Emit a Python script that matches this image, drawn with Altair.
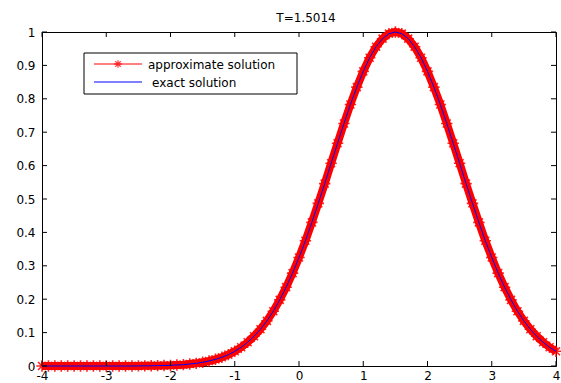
import altair as alt
import pandas as pd

# ---- data ----
x_vals = [-4.0, -3.9, -3.8, -3.7, -3.6, -3.5, -3.4, -3.3, -3.2, -3.1,
          -3.0, -2.9, -2.8, -2.7, -2.6, -2.5, -2.4, -2.3, -2.2, -2.1,
          -2.0, -1.9, -1.8, -1.7, -1.6, -1.5, -1.4, -1.3, -1.2, -1.1,
          -1.0, -0.9, -0.8, -0.7, -0.6, -0.5, -0.4, -0.3, -0.2, -0.1,
          0.0, 0.1, 0.2, 0.3, 0.4, 0.5, 0.6, 0.7, 0.8, 0.9,
          1.0, 1.1, 1.2, 1.3, 1.4, 1.5, 1.6, 1.7, 1.8, 1.9,
          2.0, 2.1, 2.2, 2.3, 2.4, 2.5, 2.6, 2.7, 2.8, 2.9,
          3.0, 3.1, 3.2, 3.3, 3.4, 3.5, 3.6, 3.7, 3.8, 3.9, 4.0]

exact_vals = [0.0, 0.0, 0.0, 0.0, 0.0, 0.0, 0.0, 0.0, 0.0, 0.0,
              0.0, 0.0, 0.0, 0.0, 0.0, 0.0003, 0.0005, 0.0007, 0.001, 0.0015,
              0.002, 0.003, 0.004, 0.006, 0.008, 0.011, 0.015, 0.020, 0.026, 0.034,
              0.044, 0.056, 0.071, 0.089, 0.110, 0.135, 0.164, 0.198, 0.236, 0.278,
              0.325, 0.375, 0.430, 0.487, 0.546, 0.607, 0.667, 0.726, 0.783, 0.835,
              0.882, 0.923, 0.956, 0.980, 0.995, 1.0, 0.995, 0.980, 0.956, 0.923,
              0.882, 0.835, 0.783, 0.726, 0.667, 0.607, 0.546, 0.487, 0.430, 0.375,
              0.325, 0.278, 0.236, 0.198, 0.164, 0.135, 0.110, 0.089, 0.071, 0.056, 0.044]

approx_vals = list(exact_vals)

x_ticks = [-4, -3, -2, -1, 0, 1, 2, 3, 4]
y_ticks = [0, 0.1, 0.2, 0.3, 0.4, 0.5, 0.6, 0.7, 0.8, 0.9, 1]
title_text = "T=1.5014"
legend_labels = ["approximate solution", " exact solution"]

# ---- layout ----
W, H = 514, 334
FONT = "DejaVu Sans"
STAR = "M-1,0L1,0M0,-1L0,1M-0.7,-0.7L0.7,0.7M-0.7,0.7L0.7,-0.7"

df = pd.DataFrame({"x": x_vals, "approx": approx_vals, "exact": exact_vals})
xt = pd.DataFrame({"x": x_ticks})
yt = pd.DataFrame({"approx": y_ticks})
one = pd.DataFrame({"a": [0]})

xs = alt.Scale(domain=[-4, 4], nice=False, zero=False)
ys = alt.Scale(domain=[0, 1], nice=False, zero=False)

xax = alt.Axis(values=x_ticks, tickSize=0, labelPadding=4, domain=False, grid=False,
               labelFontSize=12, labelFont=FONT, labelColor="#000000", title=None,
               labelFlush=False, labelExpr="'' + datum.value")
yax = alt.Axis(values=y_ticks, tickSize=0, labelPadding=7, domain=False, grid=False,
               labelFontSize=12, labelFont=FONT, labelColor="#000000", title=None,
               labelFlush=False, labelExpr="'' + datum.value")

X = alt.X("x:Q", scale=xs, axis=xax)
Y = alt.Y("approx:Q", scale=ys, axis=yax)

band = alt.Chart(df).mark_line(color="#ff0000", strokeWidth=8).encode(x=X, y=Y)
stars = alt.Chart(df).mark_point(shape=STAR, size=130, filled=False, color="#ff0000",
                                 strokeWidth=1.6, opacity=0.85).encode(x=X, y=Y)
exact = alt.Chart(df).mark_line(color="#0000ff", strokeWidth=1).encode(
    x=X, y=alt.Y("exact:Q", scale=ys, axis=yax))

tick_style = dict(color="#000000", strokeWidth=1)
xt_bot = alt.Chart(xt).mark_rule(**tick_style).encode(
    x=X, y=alt.value(H), y2=alt.value(H - 5))
xt_top = alt.Chart(xt).mark_rule(**tick_style).encode(
    x=X, y=alt.value(0), y2=alt.value(5))
yt_left = alt.Chart(yt).mark_rule(**tick_style).encode(
    y=Y, x=alt.value(0), x2=alt.value(5))
yt_right = alt.Chart(yt).mark_rule(**tick_style).encode(
    y=Y, x=alt.value(W), x2=alt.value(W - 5))

# ---- title (as text above the plot) ----
title_mark = alt.Chart(one).mark_text(align="center", baseline="alphabetic", fontSize=12,
                                      font=FONT, color="#000000").encode(
    x=alt.value(W / 2 + 7), y=alt.value(-10), text=alt.value(title_text))

# ---- legend (drawn manually) ----
leg_box = alt.Chart(one).mark_rect(fill="white", stroke="#000000", strokeWidth=1).encode(
    x=alt.value(42), x2=alt.value(255), y=alt.value(21), y2=alt.value(62))
leg_red = alt.Chart(one).mark_rule(color="#ff0000", strokeWidth=1).encode(
    x=alt.value(52), x2=alt.value(100), y=alt.value(32))
leg_star = alt.Chart(one).mark_point(shape=STAR, size=60, filled=False, color="#ff0000",
                                     strokeWidth=1.3).encode(x=alt.value(76), y=alt.value(32))
leg_blue = alt.Chart(one).mark_rule(color="#0000ff", strokeWidth=1).encode(
    x=alt.value(52), x2=alt.value(100), y=alt.value(50))
leg_t1 = alt.Chart(one).mark_text(align="left", baseline="middle", fontSize=12, font=FONT,
                                  color="#000000").encode(
    x=alt.value(106), y=alt.value(33), text=alt.value(legend_labels[0]))
leg_t2 = alt.Chart(one).mark_text(align="left", baseline="middle", fontSize=12, font=FONT,
                                  color="#000000").encode(
    x=alt.value(110), y=alt.value(51), text=alt.value(legend_labels[1].strip()))

chart = alt.layer(
    band, stars, exact, xt_bot, xt_top, yt_left, yt_right, title_mark,
    leg_box, leg_red, leg_star, leg_blue, leg_t1, leg_t2,
).properties(
    width=W, height=H,
    padding={"left": 42, "top": 32, "right": 5, "bottom": 17},
    autosize=alt.AutoSizeParams(type="none"),
    background="white",
).configure_view(stroke="#000000", strokeWidth=1)

chart.save("out.html", embed_options={"renderer": "svg", "actions": False})
